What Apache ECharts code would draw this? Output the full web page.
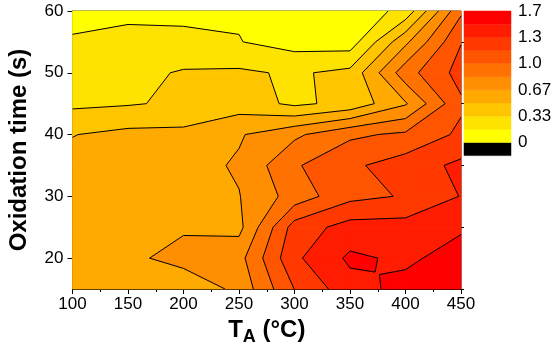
<!DOCTYPE html>
<html><head><meta charset="utf-8">
<script src="https://cdn.jsdelivr.net/npm/echarts@6/dist/echarts.min.js"></script>
<style>html,body{margin:0;padding:0;background:#fff}#c{width:556px;height:360px}</style>
</head><body><div id="c"></div>
<script>
// grid coordinates
const tempC = [100,150,200,250,300,350,400,450];
const timeS = [15,20,25,30,35,40,45,50,55,60];
// z values per row (time), one value per temperature
const z15 = [0.58,0.60,0.52,0.716,1.17,1.437,1.55,1.62];
const z20 = [0.58,0.62,0.74,0.776,1.30,1.53,1.47,1.565];
const z25 = [0.58,0.60,0.64,0.62,1.24,1.40,1.40,1.48];
const z30 = [0.57,0.60,0.62,0.66,0.905,1.12,1.18,1.34];
const z35 = [0.55,0.59,0.60,0.687,0.98,1.134,1.25,1.37];
const z40 = [0.495,0.545,0.545,0.65,0.80,0.97,1.03,1.20];
const z45 = [0.30,0.32,0.36,0.42,0.30,0.383,0.65,1.14];
const z50 = [0.25,0.28,0.35,0.36,0.31,0.378,0.93,1.23];
const z55 = [0.185,0.227,0.20,0.172,0.10,0.08,0.63,1.16];
const z60 = [0.11,0.12,0.134,0.15,0.05,0.05,0.22,0.97];
// contour levels
const levels = [0,1/6,2/6,3/6,4/6,5/6,6/6,7/6,8/6,9/6,10/6];
const cbTickValues = [0,1/3,2/3,1,4/3,5/3];
const cbTickLabels = ['0','0.33','0.67','1.0','1.3','1.7'];
const yTicks = [20,30,40,50,60];
const yMinorTicks = [15,25,35,45,55];

const bandColors = ['#000000','#FFFF00','#FFE300','#FFC600','#FFAA00','#FF8E00','#FF7100','#FF5500','#FF3900','#FF1C00','#FF0000'];

const zRows = [z15,z20,z25,z30,z35,z40,z45,z50,z55,z60];
function Z(i,j){ return zRows[j][i]; }

function inter(a,b,L){
  const t = (L-a[2])/(b[2]-a[2]);
  return [a[0]+t*(b[0]-a[0]), a[1]+t*(b[1]-a[1]), L];
}
function clip(poly, L, above){
  const out = [];
  const n = poly.length;
  const inside = p => above ? p[2] >= L : p[2] <= L;
  for (let k=0;k<n;k++){
    const a = poly[k], b = poly[(k+1)%n];
    const ia = inside(a), ib = inside(b);
    if (ia && ib) out.push(b);
    else if (ia && !ib) out.push(inter(a,b,L));
    else if (!ia && ib){ out.push(inter(a,b,L)); out.push(b); }
  }
  return out;
}
function cellPieces(i,j){
  const q = [[tempC[i],timeS[j],Z(i,j)],[tempC[i+1],timeS[j],Z(i+1,j)],
             [tempC[i+1],timeS[j+1],Z(i+1,j+1)],[tempC[i],timeS[j+1],Z(i,j+1)]];
  let saddle = false;
  levels.forEach(L=>{
    const s = q.map(p=>p[2] >= L);
    if (s[0]===s[2] && s[1]===s[3] && s[0]!==s[1]) saddle = true;
  });
  if (!saddle) return [q];
  const c = [(q[0][0]+q[1][0])/2, (q[0][1]+q[3][1])/2, (q[0][2]+q[1][2]+q[2][2]+q[3][2])/4];
  return [[q[0],q[1],c],[q[1],q[2],c],[q[2],q[3],c],[q[3],q[0],c]];
}
const cells = [];
for (let i=0;i<tempC.length-1;i++) for (let j=0;j<timeS.length-1;j++) cells.push([tempC[i],timeS[j],i,j]);

function renderFill(params, api){
  const pieces = cellPieces(api.value(2), api.value(3));
  const children = [];
  const nb = bandColors.length;
  pieces.forEach(corners=>{
    for (let b=0;b<nb;b++){
      const lo = b===0 ? -Infinity : levels[b-1];
      const hi = b===nb-1 ? Infinity : levels[b];
      let poly = corners;
      if (lo > -Infinity) poly = clip(poly, lo, true);
      if (poly.length && hi < Infinity) poly = clip(poly, hi, false);
      if (poly.length >= 3){
        children.push({type:'polygon', shape:{points: poly.map(p=>api.coord([p[0],p[1]]))},
          style:{fill:bandColors[b], stroke:bandColors[b], lineWidth:0.8}});
      }
    }
  });
  return {type:'group', children};
}
function renderLines(params, api){
  const pieces = cellPieces(api.value(2), api.value(3));
  const children = [];
  pieces.forEach(c=>{
    const n = c.length;
    for (let l=1;l<levels.length;l++){
      const L = levels[l];
      const st = c.map(p=>p[2] >= L);
      const pts = [];
      for (let e=0;e<n;e++){
        if (st[e] !== st[(e+1)%n]) pts.push(inter(c[e],c[(e+1)%n],L));
      }
      if (pts.length === 2){
        const p1 = api.coord([pts[0][0],pts[0][1]]), p2 = api.coord([pts[1][0],pts[1][1]]);
        children.push({type:'line', shape:{x1:p1[0],y1:p1[1],x2:p2[0],y2:p2[1]},
          style:{stroke:'#000', lineWidth:1}});
      }
    }
  });
  return {type:'group', children};
}
const cbBands = bandColors.map((col,b)=>[b===0 ? levels[0]-1/6 : levels[b-1], b===0 ? levels[0] : levels[b], b]);
function renderCb(params, api){
  const lo = api.value(0), hi = api.value(1), b = api.value(2);
  const p1 = api.coord([0,hi]), p2 = api.coord([1,lo]);
  return {type:'rect', shape:{x:p1[0], y:p1[1], width:p2[0]-p1[0], height:p2[1]-p1[1]},
    style:{fill:bandColors[b], stroke:bandColors[b], lineWidth:0.5}};
}

const FONT = 'Liberation Sans, Arial, sans-serif';
const chart = echarts.init(document.getElementById('c'), null, {renderer:'canvas'});
chart.setOption({
  animation:false,
  backgroundColor:'#fff',
  grid:[
    {left:72.5, top:11, width:388.5, height:278, containLabel:false, outerBoundsMode:'none',
     show:true, borderColor:'#222', borderWidth:1, backgroundColor:'transparent'},
    {left:464, top:11, width:47, height:144.6, containLabel:false, outerBoundsMode:'none', show:false}
  ],
  xAxis:[
    {type:'value', gridIndex:0, min:100, max:450, interval:50,
     axisLine:{show:true, onZero:false, lineStyle:{color:'#000', width:1}},
     axisTick:{show:true, inside:false, length:5, lineStyle:{color:'#000'}},
     minorTick:{show:true, splitNumber:2, length:3, lineStyle:{color:'#000'}},
     splitLine:{show:false}, minorSplitLine:{show:false},
     axisLabel:{color:'#000', fontSize:17, fontFamily:FONT, margin:7},
     name:'{t|T}{s|A}{t| (°C)}', nameLocation:'middle', nameGap:28,
     nameTextStyle:{rich:{
       t:{fontSize:24, fontWeight:'bold', fontFamily:FONT, color:'#000', verticalAlign:'top', lineHeight:27},
       s:{fontSize:18, fontWeight:'bold', fontFamily:FONT, color:'#000', verticalAlign:'top', lineHeight:27, padding:[10,0,0,0]}
     }}},
    {type:'value', gridIndex:1, min:0, max:1, show:false}
  ],
  yAxis:[
    {type:'value', gridIndex:0, min:15, max:60,
     axisLine:{show:true, onZero:false, lineStyle:{color:'#000', width:1}},
     axisTick:{show:true, inside:false, length:5, customValues:yTicks, lineStyle:{color:'#000'}},
     axisLabel:{color:'#000', fontSize:17, fontFamily:FONT, margin:9, customValues:yTicks},
     splitLine:{show:false},
     name:'Oxidation time (s)', nameLocation:'middle', nameGap:41, nameRotate:90,
     nameTextStyle:{fontSize:24, fontWeight:'bold', fontFamily:FONT, color:'#000'}},
    {type:'value', gridIndex:0, min:15, max:60,
     axisLine:{show:false},
     axisTick:{show:true, inside:false, length:3, customValues:yMinorTicks, lineStyle:{color:'#000'}},
     axisLabel:{show:false}, splitLine:{show:false}},
    {type:'value', gridIndex:1, position:'right', min:levels[0]-1/6, max:levels[levels.length-1],
     axisLine:{show:false}, axisTick:{show:false}, splitLine:{show:false},
     axisLabel:{color:'#000', fontSize:17, fontFamily:FONT, margin:7, customValues:cbTickValues,
       formatter:v=>cbTickLabels[Math.round(v*3)]}}
  ],
  series:[
    {type:'custom', xAxisIndex:0, yAxisIndex:0, coordinateSystem:'cartesian2d', data:cells,
     encode:{x:0,y:1}, renderItem:renderFill, silent:true, z:1},
    {type:'custom', xAxisIndex:0, yAxisIndex:0, coordinateSystem:'cartesian2d', data:cells,
     encode:{x:0,y:1}, renderItem:renderLines, silent:true, z:2},
    {type:'custom', xAxisIndex:1, yAxisIndex:2, coordinateSystem:'cartesian2d', data:cbBands,
     encode:{x:[],y:[0,1]}, renderItem:renderCb, silent:true, z:1}
  ]
});
</script></body></html>
